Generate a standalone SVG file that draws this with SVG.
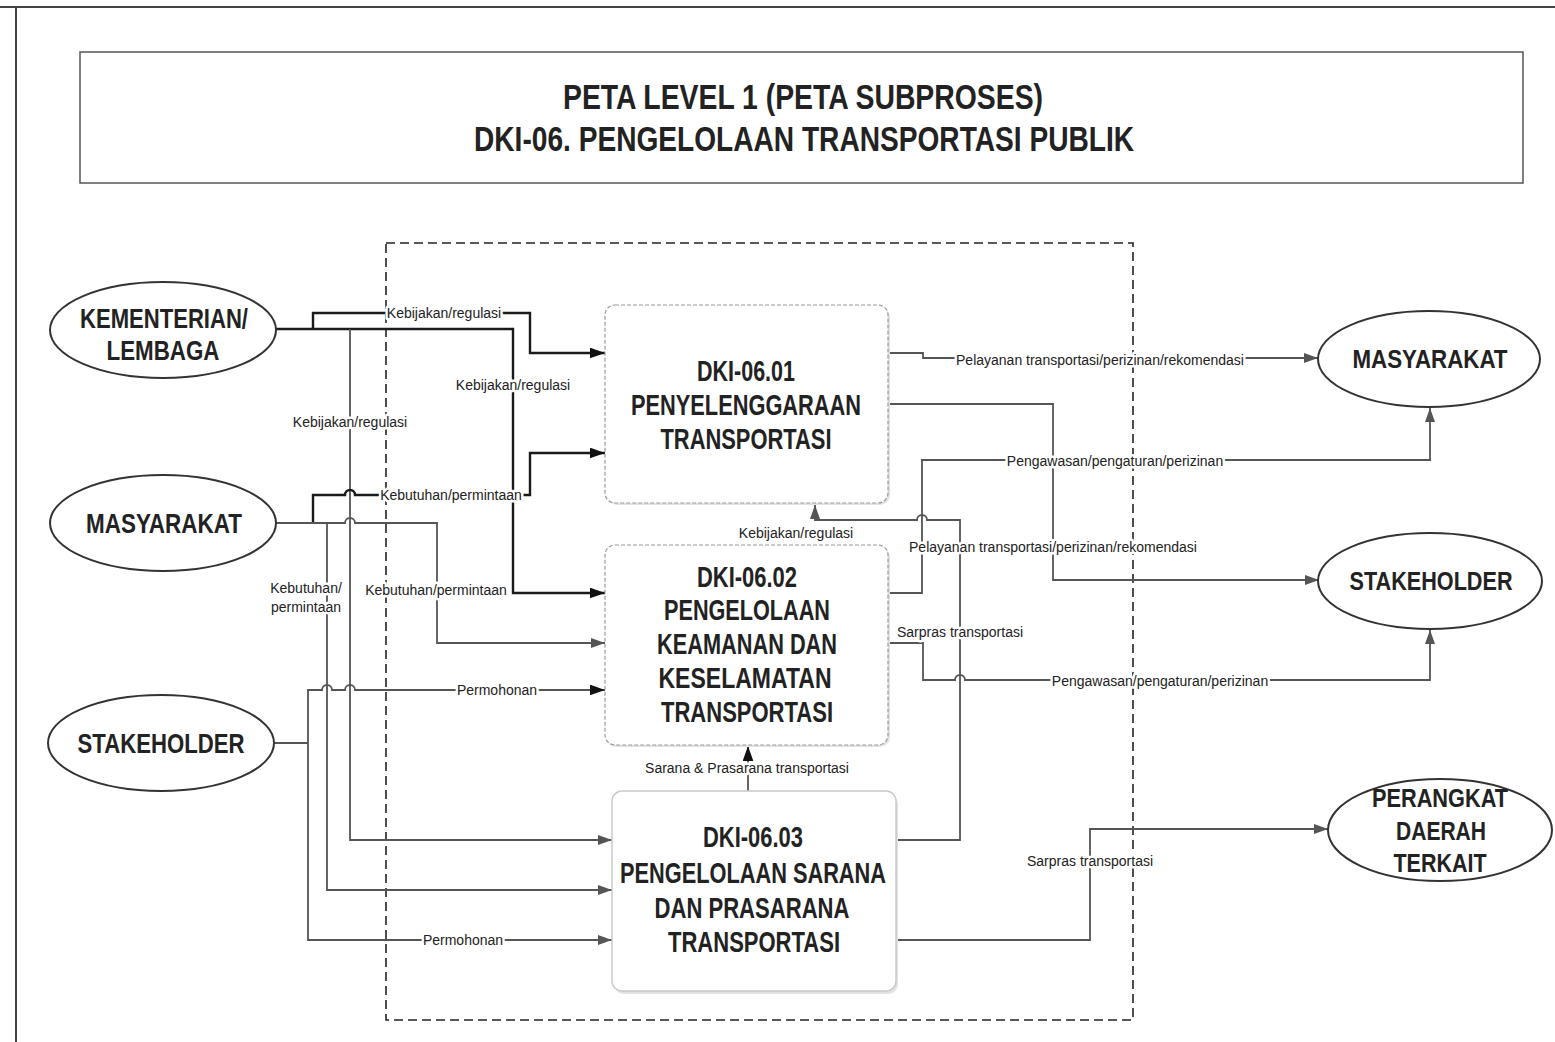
<svg xmlns="http://www.w3.org/2000/svg" width="1555" height="1042" viewBox="0 0 1555 1042">
<defs>
<style>
.frame{fill:none;stroke:#444;stroke-width:2}
.title{fill:#fff;stroke:#555;stroke-width:1.5}
.bound{fill:none;stroke:#222;stroke-width:1.6;stroke-dasharray:9 5}
.ell{fill:#fff;stroke:#333;stroke-width:2}
.proc{fill:#fff;stroke:#9a9a9a;stroke-width:1.2;stroke-dasharray:4 2}
.proc3{fill:#fff;stroke:#c8c8c8;stroke-width:1.4}
.shadow{fill:#e2e2e2}
.ln{fill:none;stroke:#555;stroke-width:1.8}
.dk{fill:none;stroke:#1a1a1a;stroke-width:2.4}
.lbl{font-family:"Liberation Sans",Arial,sans-serif;font-size:14px;fill:#222;text-anchor:middle;stroke:#fff;stroke-width:5;paint-order:stroke;stroke-linejoin:round}
.big{font-family:"Liberation Sans",Arial,sans-serif;font-weight:bold;fill:#222;text-anchor:middle}
.t1{font-size:35px}
.t2{font-size:30px}
.t3{font-size:28px}
.t4{font-size:26px}
</style>
<marker id="ag" viewBox="0 0 14 10" refX="14" refY="5" markerWidth="14" markerHeight="10" markerUnits="userSpaceOnUse" orient="auto"><path d="M0,0 L14,5 L0,10 z" fill="#555"/></marker>
<marker id="ak" viewBox="0 0 14 10" refX="14" refY="5" markerWidth="15" markerHeight="11" markerUnits="userSpaceOnUse" orient="auto"><path d="M0,0 L14,5 L0,10 z" fill="#111"/></marker>
</defs>
<rect width="1555" height="1042" fill="#fff"/>
<path class="frame" d="M0,7 H1555 M16,7 V1042"/>
<g id="title">
<rect class="title" x="80" y="52" width="1443" height="131"/>
<text class="big t1" x="803" y="109" textLength="480" lengthAdjust="spacingAndGlyphs">PETA LEVEL 1 (PETA SUBPROSES)</text>
<text class="big t1" x="804" y="151" textLength="660" lengthAdjust="spacingAndGlyphs">DKI-06. PENGELOLAAN TRANSPORTASI PUBLIK</text>
</g>
<rect id="boundary" class="bound" x="386" y="243" width="747" height="777"/>
<g id="connectors">
<path class="dk" d="M313,329 V313 H530 V353 H605" marker-end="url(#ak)"/>
<path class="dk" d="M276,329 H513 V593 H605" marker-end="url(#ak)"/>
<path class="ln" d="M350,329 V840 H612" marker-end="url(#ag)"/>
<path class="dk" d="M313,523 V495 H345 A5,5 0 0 1 355,495 H530 V453 H605" marker-end="url(#ak)"/>
<path class="ln" d="M276,523 H345 A5,5 0 0 1 355,523 H437 V643 H605" marker-end="url(#ag)"/>
<path class="ln" d="M327,523 V890 H612" marker-end="url(#ag)"/>
<path class="ln" d="M274,743 H308"/>
<path class="ln" d="M308,743 V690 H322 A5,5 0 0 1 332,690 H345 A5,5 0 0 1 355,690 H605" marker-end="url(#ak)"/>
<path class="ln" d="M308,743 V940 H612" marker-end="url(#ag)"/>
<path class="ln" d="M888,353 H923 V358 H1318" marker-end="url(#ag)"/>
<path class="ln" d="M888,404 H1053 V580 H1319" marker-end="url(#ag)"/>
<path class="ln" d="M888,593 H922 V460 H1430 V408" marker-end="url(#ag)"/>
<path class="ln" d="M888,643 H923 V680 H955 A5,5 0 0 1 965,680 H1430 V630" marker-end="url(#ag)"/>
<path class="ln" d="M896,840 H960 V520 H927 A5,5 0 0 0 917,520 H815 V505" marker-end="url(#ag)"/>
<path class="ln" d="M896,940 H1090 V829 H1328" marker-end="url(#ag)"/>
<path class="ln" d="M748,791 V746" marker-end="url(#ak)"/>
<text class="lbl" x="444" y="318">Kebijakan/regulasi</text>
<text class="lbl" x="513" y="390">Kebijakan/regulasi</text>
<text class="lbl" x="350" y="427">Kebijakan/regulasi</text>
<text class="lbl" x="451" y="500">Kebutuhan/permintaan</text>
<text class="lbl" x="306" y="593">Kebutuhan/</text>
<text class="lbl" x="306" y="612">permintaan</text>
<text class="lbl" x="436" y="595">Kebutuhan/permintaan</text>
<text class="lbl" x="497" y="695">Permohonan</text>
<text class="lbl" x="463" y="945">Permohonan</text>
<text class="lbl" x="796" y="538">Kebijakan/regulasi</text>
<text class="lbl" x="747" y="773">Sarana &amp; Prasarana transportasi</text>
<text class="lbl" x="1100" y="365">Pelayanan transportasi/perizinan/rekomendasi</text>
<text class="lbl" x="1115" y="466">Pengawasan/pengaturan/perizinan</text>
<text class="lbl" x="1053" y="552">Pelayanan transportasi/perizinan/rekomendasi</text>
<text class="lbl" x="960" y="637">Sarpras transportasi</text>
<text class="lbl" x="1160" y="686">Pengawasan/pengaturan/perizinan</text>
<text class="lbl" x="1090" y="866">Sarpras transportasi</text>
</g>
<g id="kementerian">
<ellipse class="ell" cx="163" cy="330" rx="113" ry="48"/>
<text class="big t3" x="164" y="328" textLength="168" lengthAdjust="spacingAndGlyphs">KEMENTERIAN/</text>
<text class="big t3" x="163" y="360" textLength="113" lengthAdjust="spacingAndGlyphs">LEMBAGA</text>
</g>
<g id="masyarakat-in">
<ellipse class="ell" cx="163" cy="523" rx="113" ry="48"/>
<text class="big t3" x="164" y="533" textLength="156" lengthAdjust="spacingAndGlyphs">MASYARAKAT</text>
</g>
<g id="stakeholder-in">
<ellipse class="ell" cx="161" cy="743" rx="113" ry="48"/>
<text class="big t3" x="161" y="753" textLength="167" lengthAdjust="spacingAndGlyphs">STAKEHOLDER</text>
</g>
<g id="masyarakat-out">
<ellipse class="ell" cx="1429" cy="359" rx="111" ry="48"/>
<text class="big t4" x="1430" y="368" textLength="155" lengthAdjust="spacingAndGlyphs">MASYARAKAT</text>
</g>
<g id="stakeholder-out">
<ellipse class="ell" cx="1430" cy="581" rx="112" ry="48"/>
<text class="big t4" x="1431" y="590" textLength="163" lengthAdjust="spacingAndGlyphs">STAKEHOLDER</text>
</g>
<g id="perangkat">
<ellipse class="ell" cx="1440" cy="830" rx="112" ry="51"/>
<text class="big t4" x="1440" y="807" textLength="136" lengthAdjust="spacingAndGlyphs">PERANGKAT</text>
<text class="big t4" x="1441" y="840" textLength="90" lengthAdjust="spacingAndGlyphs">DAERAH</text>
<text class="big t4" x="1440" y="872" textLength="93" lengthAdjust="spacingAndGlyphs">TERKAIT</text>
</g>
<g id="dki-06-01">
<rect class="shadow" x="607" y="307" width="283" height="198" rx="10"/>
<rect class="proc" x="605" y="305" width="283" height="198" rx="10"/>
<text class="big t2" x="746" y="381" textLength="98" lengthAdjust="spacingAndGlyphs">DKI-06.01</text>
<text class="big t2" x="746" y="415" textLength="230" lengthAdjust="spacingAndGlyphs">PENYELENGGARAAN</text>
<text class="big t2" x="746" y="449" textLength="171" lengthAdjust="spacingAndGlyphs">TRANSPORTASI</text>
</g>
<g id="dki-06-02">
<rect class="shadow" x="607" y="547" width="283" height="200" rx="10"/>
<rect class="proc" x="605" y="545" width="283" height="200" rx="10"/>
<text class="big t2" x="747" y="587" textLength="100" lengthAdjust="spacingAndGlyphs">DKI-06.02</text>
<text class="big t2" x="747" y="620" textLength="166" lengthAdjust="spacingAndGlyphs">PENGELOLAAN</text>
<text class="big t2" x="747" y="654" textLength="180" lengthAdjust="spacingAndGlyphs">KEAMANAN DAN</text>
<text class="big t2" x="745" y="688" textLength="173" lengthAdjust="spacingAndGlyphs">KESELAMATAN</text>
<text class="big t2" x="747" y="722" textLength="172" lengthAdjust="spacingAndGlyphs">TRANSPORTASI</text>
</g>
<g id="dki-06-03">
<rect class="shadow" x="614" y="794" width="284" height="200" rx="10"/>
<rect class="proc3" x="612" y="791" width="284" height="200" rx="10"/>
<text class="big t2" x="753" y="847" textLength="100" lengthAdjust="spacingAndGlyphs">DKI-06.03</text>
<text class="big t2" x="753" y="883" textLength="266" lengthAdjust="spacingAndGlyphs">PENGELOLAAN SARANA</text>
<text class="big t2" x="752" y="918" textLength="195" lengthAdjust="spacingAndGlyphs">DAN PRASARANA</text>
<text class="big t2" x="754" y="952" textLength="172" lengthAdjust="spacingAndGlyphs">TRANSPORTASI</text>
</g>
</svg>
